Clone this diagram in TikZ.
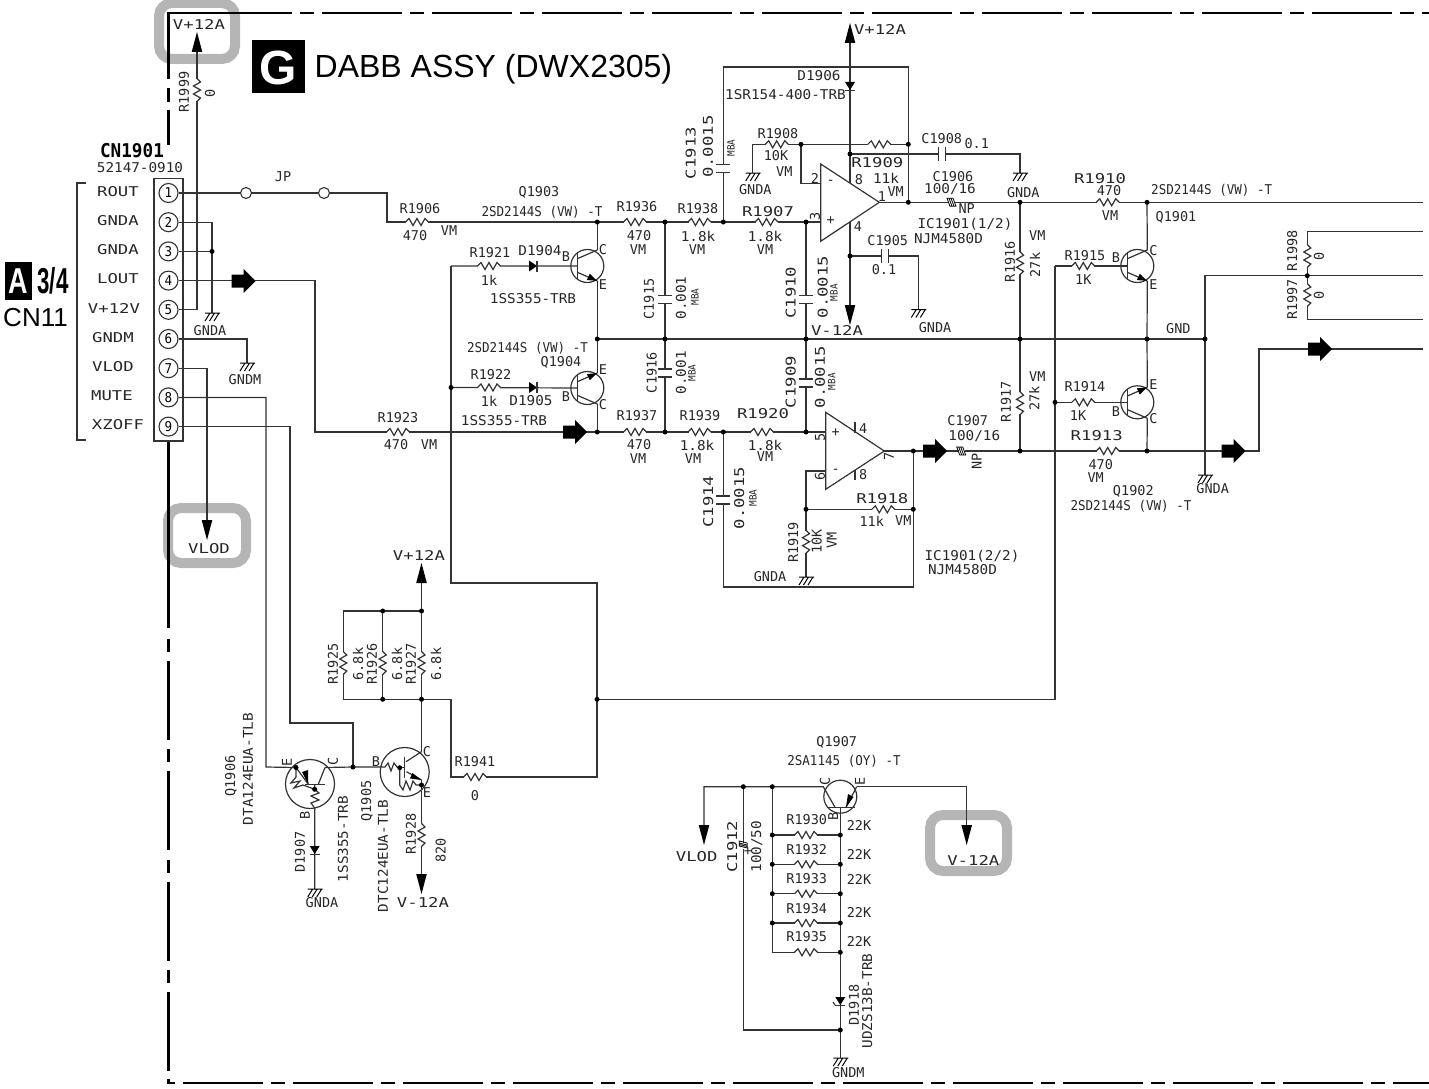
\documentclass[tikz,border=0pt]{standalone}
\usepackage{fontspec}
\setmainfont{Liberation Sans}
\newfontfamily\narrowfont[FakeStretch=.93]{DejaVu Sans Mono}
\newfontfamily\monofont{DejaVu Sans Mono}
\newfontfamily\midfont[FakeStretch=1.06]{DejaVu Sans Mono}
\newfontfamily\widefont[FakeStretch=1.28]{DejaVu Sans Mono}
\definecolor{wirecol}{gray}{0.2}
\definecolor{markcol}{gray}{0.71}
\tikzset{
  wire/.style={line width=1.2pt,draw=wirecol},
  frame/.style={line width=2.2pt,draw=black},
  markbox/.style={line width=10pt,draw=markcol,rounded corners=13pt},
  lab/.style={inner sep=0pt,text=black!85,font=\fontsize{13.5}{14}\selectfont\monofont},
  nlab/.style={inner sep=0pt,text=black!85,font=\fontsize{13.5}{14}\selectfont\narrowfont},
  mlab/.style={inner sep=0pt,text=black!85,font=\fontsize{13.5}{14}\selectfont\midfont},
  wlab/.style={inner sep=0pt,text=black!85,font=\fontsize{13.5}{14}\selectfont\widefont},
  slab/.style={inner sep=0pt,rotate=90,text=black!85,font=\fontsize{10}{10}\selectfont\narrowfont},
  dot/.style={circle,fill=black,inner sep=0pt,minimum size=5pt},
  pinbox/.style={circle,draw=wirecol,line width=1.1pt,fill=white,inner sep=0pt,minimum size=19pt,font=\fontsize{13.5}{14}\selectfont\narrowfont},
  jpbox/.style={circle,draw=wirecol,line width=1.1pt,fill=white,inner sep=0pt,minimum size=11pt},
  resh/.pic={
    \draw[white,line width=2.5pt] (-11,0) -- (11,0);
    \draw[wire] (-11.5,0) -- (-8,-3.5) -- (-4,3.5) -- (0,-3.5) -- (4,3.5) -- (8,-3.5) -- (11.5,0);
  },
  resv/.pic={
    \draw[white,line width=2.5pt] (0,-11) -- (0,11);
    \draw[wire] (0,-11.5) -- (3.5,-8) -- (-3.5,-4) -- (3.5,0) -- (-3.5,4) -- (3.5,8) -- (0,11.5);
  },
  capv/.pic={
    \draw[white,line width=3pt] (0,-3.5) -- (0,3.5);
    \draw[wire] (-7,-4) -- (7,-4) (-7,4) -- (7,4);
  },
  caph/.pic={
    \draw[white,line width=3pt] (-3,0) -- (3,0);
    \draw[wire] (-3.5,-7) -- (-3.5,7) (3.5,-7) -- (3.5,7);
  },
  nph/.pic={
    \draw[white,line width=3pt] (-3,0) -- (3,0);
    \draw[line width=.8pt] (-5,-4) -- (1,-4) -- (4,4) -- (-2,4) -- cycle (-3,-4) -- (0,4) (-1,-4) -- (2,4);
  },
  npv/.pic={
    \draw[white,line width=3pt] (0,-3) -- (0,3);
    \draw[line width=.8pt] (-4,-5) -- (4,-3) -- (4,2) -- (-4,0) -- cycle (-4,-3) -- (4,-1) (-4,-1.5) -- (4,.5);
  },
  dioder/.pic={
    \fill (-4,-5.5) -- (-4,5.5) -- (4,0) -- cycle;
    \draw[wire] (4,-5.5) -- (4,5.5);
  },
  dioded/.pic={
    \fill (-5,-4) -- (5,-4) -- (0,4) -- cycle;
    \draw[wire] (-5,4.3) -- (5,4.3);
  },
  tipup/.pic={\fill (0,0) -- (-5.3,20) -- (5.3,20) -- cycle;},
  tipdown/.pic={\fill (0,0) -- (-5.3,-20) -- (5.3,-20) -- cycle;},
  flowarrow/.pic={\fill (0,-6.5) rectangle (12,6.5) (12,-12) -- (24,0) -- (12,12) -- cycle;},
  gndsym/.pic={
    \draw[line width=1pt] (-7,0) -- (8,0) (-2,0) -- (-7,8) (2.5,0) -- (-2.5,8) (7,0) -- (2,8);
  },
  qnpn/.pic={
    \draw[wire] (0,0) circle (16.5);
    \draw[wire] (-9.5,-13) -- (-9.5,13);
    \draw[wire] (-9.5,-7.5) -- (10,-16);
    \draw[wire] (-9.5,6.5) -- (10,15);
    \fill (9.5,14.8) -- (-.5,14) -- (2.5,7.8) -- cycle;
    \coordinate (-c) at (10,-16);
    \coordinate (-e) at (10,15);
    \coordinate (-b) at (-9.5,0);
  },
}
\begin{document}
\begin{tikzpicture}[x=1pt,y=-1pt]
  \useasboundingbox (0,0) rectangle (1429,1089);
  % Grey marks behind the signals
  \draw[markbox] (159,3) rectangle (235,59);
  \draw[markbox] (168,508) rectangle (246,563);
  \draw[markbox] (930,815) rectangle (1007,871);
  % Board outline
  \draw[frame] (212,13) -- (168.5,13) -- (168.5,79);
  \draw[frame] (168.5,88) -- (168.5,102) (168.5,110) -- (168.5,145);
  \draw[frame] (168.5,441) -- (168.5,628);
  \foreach \y in {639,749,860,970}{
    \draw[frame] (168.5,\y) -- (168.5,\y + 13);
    \draw[frame] (168.5,\y + 22) -- (168.5,\y + 101);
  }
  \draw[frame] (168.5,1079) -- (168.5,1083) -- (175,1083);
  \foreach \x in {212,322,...,1422}{
    \draw[frame] (\x,13) -- ({min(\x + 80,1429)},13);
    \draw[frame] ({min(\x + 88,1429)},13) -- ({min(\x + 102,1429)},13);
  }
  \foreach \x in {183,293,...,1393}{
    \draw[frame] (\x,1083) -- ({min(\x + 80,1429)},1083);
    \draw[frame] ({min(\x + 88,1429)},1083) -- ({min(\x + 102,1429)},1083);
  }
  % Title
  \fill (252,40) rectangle (305,93);
  \node[inner sep=0pt,text=white,font=\fontsize{48}{48}\selectfont\bfseries] (gmark) at (278.5,67.5) {G};
  \node[inner sep=0pt,anchor=west,font=\fontsize{32}{32}\selectfont] (title) at (314.5,69.5) {DABB ASSY (DWX2305)};
  \fill (5,262) rectangle (32,300);
  \node[inner sep=0pt,text=white,font=\fontsize{36}{36}\selectfont\bfseries] (amark) at (18.5,281) {\scalebox{.75}[1]{A}};
  \node[inner sep=0pt,font=\fontsize{36}{36}\selectfont\bfseries] (sheet) at (53,281) {\scalebox{.62}[1]{3/4}};
  \node[inner sep=0pt,font=\fontsize{26}{26}\selectfont] (cn11) at (35.5,318) {CN11};
  % Connector
  \draw[wire] (86,183) -- (77,183) -- (77,440) -- (86,440);
  \draw[wire] (154,178.5) rectangle (183,441);
  \foreach \n [evaluate=\n as \y using 193+(\n-1)*29.2] in {1,...,9}{
    \node[pinbox] (pin\n) at (168.5,\y) {\n};
  }
  \foreach \x/\y/\t [count=\n] in {118/192/ROUT,118/221/GNDA,118/250/GNDA,118/279/LOUT,114/308/V+12V,
      113/338/GNDM,113/367/VLOD,112/396/MUTE,118/425/XZOFF}{
    \node[wlab] (conn\n) at (\x,\y) {\t};
  }
  \node[inner sep=0pt,font=\fontsize{19}{19}\selectfont\narrowfont\bfseries] (cnname) at (132,151) {CN1901};
  % Points of the wiring
  \foreach \n/\x/\y in {
    gA/212/313,gM/247/363,jG/212/251.4,cSix/387/222,cFour/315/432,cEight/266/767,cNine/290/723,cNineb/353/723,
    tipA/197/52,tipB/207/520,
    jU1/597.3/222,jU2/665/222,jU3/723.3/222,jU4/806/222,inP1/820.7/222,
    jL1/597.3/432,jL2/665/432,jL3/723.3/432,jL4/806/432,inP2/825.7/432,
    jB1/597.3/339,jB2/665/339,jB3/806/339,jB4/1020/339,jB5/1147/339,jB6/1205/339,
    b1/451/266,jb2/451/387.5,b3/451/583,b4/597/583,jb5/597/699.3,b6/1055/699.3,b7/1055/266,jb8/1055/402.3,
    b9/597/777,b10/451/777,
    t1/723.3/67,t2/908.3/67,jF2/908.3/144.3,jF3/908.3/202.3,jF1/801/144.3,g1/752.7/144.3,g1b/752.7/173,
    f1/801/183.3,f2/820.7/183.3,op1o/879.3/202.3,
    vTop/850/43,jV1/850/154,vA/850/183,vB/850/222,jV2/850/256,vC/850/305,
    c8a/1020/154,g2/1020/173,c5a/918.3/256,g3/918.3/309.5,
    jO1/1020/202.3,jO2/1147/202.3,oEnd/1423/202.3,
    jM1/1205/275.7,jM2/1307.3/275.7,mEnd/1423/275.7,gF/1205/475,
    u1/1307.3/231.7,u2/1423/231.7,u3/1307.3/319.3,u4/1423/319.3,
    op2o/884.3/451,jP1/913.3/451,jP2/1020/451,jP3/1147/451,w1/1259/451,w2/1259/349,w3/1423/349,
    e1/825.7/471,e2/806/471,jE3/806/509.3,jE4/913.3/509.3,e5/806/577,e6/913.3/587,e7/723.3/587,
    jT1/382.7/611,jT2/421.5/611,tT/343.3/611,aT/421.5/583,jS1/382.7/699.3,jS2/421.5/699.3,sL/343.3/699.3,sR/451/699.3,
    j353/353/767,q6e/296/767.5,q6c/325/767.5,q6b/314.7/789.3,gQ/314.7/889,
    q5b/382/767,q5j/399.7/767.7,q5c/421.5/751.7,q5e/421.5/785,aB/421.5/874,
    v0/704/786.7,vl/704/825,jC/743.3/786.7,jR/772.3/786.7,q7c/823.3/786.7,q7e/856.7/786.7,ve/966.7/786.7,ve2/966.7/825,
    q7b/840.3/807.3,jD/840.3/1030,cC/743.3/1030,gD/840.3/1058}{
    \coordinate (\n) at (\x,\y);
  }
  \foreach \n/\y in {1930/835,1932/864.3,1933/893.7,1934/923,1935/952.3}{
    \coordinate (ll\n) at (772.3,\y);
    \coordinate (lr\n) at (840.3,\y);
  }
  % Transistors
  \pic (Q1903) at (587.3,266) {qnpn};
  \pic[yscale=-1] (Q1904) at (587.3,388) {qnpn};
  \pic (Q1901) at (1137.3,266) {qnpn};
  \pic[yscale=-1] (Q1902) at (1137.3,402.3) {qnpn};
  % Wires of the connector
  \draw[wire] (pin1.east) -- (324,193) -| (cSix) -- (jU1) -- (jU2) -- (jU3) -- (jU4) -- (inP1);
  \node[jpbox] (jpL) at (246,193) {};
  \node[jpbox] (jpR) at (324,193) {};
  \draw[wire] (pin2.east) -| (gA);
  \draw[wire] (pin3.east) -- (jG);
  \draw[wire] (pin4.east) -| (cFour) -- (jL1) -- (jL2) -- (jL3) -- (jL4) -- (inP2);
  \draw[wire] (pin5.east) -| (tipA);
  \draw[wire] (pin6.east) -| (gM);
  \draw[wire] (pin7.east) -| (tipB);
  \draw[wire] (pin8.east) -| (cEight) -- (q6e);
  \draw[wire] (pin9.east) -| (cNine) -- (cNineb) -- (j353);
  % Amplifier wires
  \draw[wire] (jU1) -- (Q1903-c) (Q1903-e) -- (jB1) -- (Q1904-e) (Q1904-c) -- (jL1);
  \draw[wire] (jU2) -- (jB2) -- (jL2);
  \draw[wire] (jU4) -- (jB3) -- (jL4);
  \draw[wire] (jB1) -- (jB2) -- (jB3) -- (jB4) -- (jB5) -- (jB6);
  \draw[wire] (jU3) -- (t1) -- (t2) -- (jF2) -- (jF3);
  \draw[wire] (g1b) -- (g1) -- (jF1) -- (jF2);
  \draw[wire] (jF1) -- (f1) -- (f2);
  \draw[wire] (vTop) -- (jV1) -- (vA);
  \draw[wire] (jV1) -- (c8a) -- (g2);
  \draw[wire] (vB) -- (jV2) -- (vC);
  \draw[wire] (jV2) -- (c5a) -- (g3);
  \draw[wire] (op1o) -- (jF3) -- (jO1) -- (jO2) -- (oEnd);
  \draw[wire] (jO1) -- (jB4) -- (jP2);
  \draw[wire] (jO2) -- (Q1901-c) (Q1901-e) -- (jB5) -- (Q1902-e) (Q1902-c) -- (jP3);
  \draw[wire] (b1) -- (Q1903-b) (jb2) -- (Q1904-b);
  \draw[wire] (b7) -- (Q1901-b) (jb8) -- (Q1902-b);
  \draw[wire] (b1) -- (jb2) -- (b3) -- (b4) -- (jb5) -- (b9) -- (b10) -- (sR) -- (jS2) -- (jS1) -- (sL) -- (tT) -- (jT1) -- (jT2) -- (aT);
  \draw[wire] (jS1) -- (jT1);
  \draw[wire] (jT2) -- (jS2) -- (q5c);
  \draw[wire] (jb5) -- (b6) -- (jb8) -- (b7);
  \draw[wire] (jB6) -- (jM1) -- (jM2) -- (mEnd);
  \draw[wire] (jB6) -- (gF);
  \draw[wire] (u2) -- (u1) -- (jM2) -- (u3) -- (u4);
  \draw[wire] (op2o) -- (jP1) -- (jP2) -- (jP3) -- (w1) -- (w2) -- (w3);
  \draw[wire] (e1) -- (e2) -- (jE3) -- (e5);
  \draw[wire] (jE3) -- (jE4);
  \draw[wire] (jP1) -- (jE4) -- (e6) -- (e7) -- (jL3);
  % Op amps
  \draw[wire,fill=white] (820.7,164) -- (820.7,241.3) -- (op1o) -- cycle;
  \draw[wire,fill=white] (825.7,412.3) -- (825.7,489.3) -- (op2o) -- cycle;
  \draw[wire] (855,421.7) -- (855,433) (855,470) -- (855,480);
  % Q1906 and Q1905 with their inner resistors
  \draw[wire] (310,784) circle (24.5);
  \draw[wire] (q6c) -- (j353) -- (q5b);
  \draw[wire] (305,784.3) -- (325,784.3);
  \draw[wire] (q6e) -- (308.3,784.3);
  \fill (308.3,784.3) -- (302,772) -- (308,770) -- cycle;
  \draw[wire] (q6c) -- (318.3,784.3);
  \draw[wire] (314.7,784.3) -- (q6b) -- (319,793) -- (311,796) -- (319,800) -- (311,803) -- (314.7,808) -- (gQ);
  \draw[wire] (q6e) -- (296,777) -- (291,783) -- (300,781) -- (294,788) -- (303,785) -- (q6b);
  \draw[wire] (404.7,772) circle (24.5);
  \draw[wire] (q5b) -- (385,767) -- (388,763) -- (391,771) -- (394,763) -- (397,767) -- (q5j);
  \draw[wire] (q5j) -- (404.3,767.7);
  \draw[wire] (404.3,756.7) -- (404.3,778);
  \draw[wire] (406,761.7) -- (q5c);
  \draw[wire] (406.5,771.7) -- (421.5,780);
  \fill (421.5,780) -- (410,778.5) -- (412.5,773) -- cycle;
  \draw[wire] (q5j) -- (399.7,785) -- (403,790) -- (406,781) -- (410,790) -- (413,781) -- (416,785) -- (q5e);
  \draw[wire] (421.5,780) -- (q5e) -- (aB);
  % Q1907 and its ladder
  \draw[wire] (840.3,796.7) circle (16.5);
  \draw[wire] (826.7,807.3) -- (855,807.3);
  \draw[wire] (vl) -- (v0) -- (jC) -- (jR) -- (q7c) -- (835,807.3);
  \draw[wire] (q7e) -- (846,807.3);
  \fill (846,807.3) -- (848,794) -- (853.5,797) -- cycle;
  \draw[wire] (q7e) -- (ve) -- (ve2);
  \draw[wire] (q7b) -- (gD);
  \draw[wire] (jC) -- (cC) -- (jD);
  \draw[wire] (jR) -- (ll1935);
  \foreach \n in {1930,1932,1933,1934,1935}{
    \draw[wire] (ll\n) -- (lr\n);
  }
  % Resistors
  \foreach \x/\y in {417/222,398/432,635/222,699.5/222,766.5/222,635/432,699.5/432,762/432,489/266,489/387.5,
      776.7/144.3,879.3/144.3,1107.7/202.3,1083.3/266,1083.3/402.3,1107.7/451,883.3/509.3,475/777,
      806/835,806/864.3,806/893.7,806/923,806/952.3}{
    \pic at (\x,\y) {resh};
  }
  \foreach \x/\y in {197/90,1020/263.3,1020/403.3,1307.3/256,1307.3/295,806/541.7,343.3/663,382.7/663,421.5/663,421.5/835}{
    \pic at (\x,\y) {resv};
  }
  % Capacitors and diodes
  \foreach \x/\y in {665/299.5,665/373,806/299.5,806/383,723.3/500,723.3/168.3}{
    \pic at (\x,\y) {capv};
  }
  \foreach \x/\y in {884.7/256,942.3/154}{
    \pic at (\x,\y) {caph};
  }
  \pic at (952,202.3) {nph};
  \pic at (961.7,451) {nph};
  \pic at (743.3,846) {npv};
  \pic at (533,266) {dioder};
  \pic at (533,387.5) {dioder};
  \pic at (850,86) {dioded};
  \pic at (314.7,850) {dioded};
  \pic at (840.3,1001) {dioded};
  \draw[wire] (835,1005) -- (833,1002);
  % Arrows and grounds
  \pic at (197,32) {tipup};
  \pic at (207,540) {tipdown};
  \pic at (850,23) {tipup};
  \pic at (850,325) {tipdown};
  \pic at (421.5,563) {tipup};
  \pic at (421.5,894) {tipdown};
  \pic at (704,845) {tipdown};
  \pic at (966.7,845) {tipdown};
  \foreach \x/\y in {231.5/281,563/432,923/451,1221.5/451,1308/349}{
    \pic at (\x,\y) {flowarrow};
  }
  \foreach \p in {gA,gM,g1b,g2,g3,gF,e5,gQ,gD}{
    \pic at (\p) {gndsym};
  }
  % Junction dots
  \foreach \p in {jG,jU1,jU2,jU3,jU4,jL1,jL2,jL3,jL4,jB1,jB2,jB3,jB4,jB5,jB6,jb2,jb5,jb8,jF1,jF2,jF3,jV1,jV2,
      jO1,jO2,jM2,jP1,jP2,jP3,jE3,jE4,jT1,jT2,jS1,jS2,j353,q6e,q6b,q5j,q5e,jC,jR,jD,
      ll1930,ll1932,ll1933,ll1934,lr1930,lr1932,lr1933,lr1934,lr1935}{
    \node[dot] (d\p) at (\p) {};
  }
  % Labels
  \foreach \x/\y/\t [count=\n] in {
    283/177/JP,420/209/R1906,415/236/470,449/231/VM,398/418/R1923,396/445/470,429/445/VM,
    210/331/GNDA,245/380/GNDM,
    539/192/Q1903,637/207/R1936,639/236/470,638/250/VM,698/209/R1938,697/250/VM,
    765/250/VM,490/253/R1921,489/280/1k,566/257/B,603/250/C,603/285/E,
    561/362/Q1904,491/375/R1922,489/401/1k,566/397/B,603/370/E,603/405/C,
    637/416/R1937,639/445/470,638/459/VM,700/416/R1939,693/459/VM,765/457/VM,
    778/134/R1908,776/155.7/10K,784.3/172/VM,755.3/190/GNDA,815/178/2,
    859/180/8,858/226.7/4,882/196.7/1,895.7/191.7/VM,953/177/C1906,966.7/209/NP,
    887.7/240.7/C1905,884/270/{0.1},941.7/138.3/C1908,976.7/143.3/{0.1},
    935/328/GNDA,1023.3/192.3/GNDA,1109/191/470,1110/216/VM,1176/217.3/Q1901,
    1037.3/235.3/VM,1037.3/376.7/VM,1085/255.7/R1915,1083.3/280/1K,1116/257.7/B,1153.3/250.7/C,1153.3/285/E,
    1178.3/328.3/GND,1085/386.7/R1914,1078/416/1K,1116/411.7/B,1153.3/385/E,1153.3/418.3/C,
    967.7/421/C1907,1100.7/464.3/470,1095.7/477.3/VM,1133.3/491.7/Q1902,
    1212.7/489/GNDA,863.3/428.3/4,863.3/474.3/8,871.7/521/11k,903.3/521/VM,770/576.7/GNDA,
    475/762/R1941,475/796/0,322/903/GNDA,376/762/B,427/752/C,427/793/E,
    836.7/742.3/Q1907,806.7/820/R1930,806.7/849.3/R1932,806.7/879/R1933,806.7/908.3/R1934,806.7/937/R1935,
    859/825.3/22K,859/854.3/22K,859/879/22K,859/912.7/22K,859/941.7/22K,848.3/1072.3/GNDM}{
    \node[lab] (lab\n) at (\x,\y) {\t};
  }
  \foreach \x/\y/\t [count=\n] in {
    542/212/{2SD2144S (VW) -T},527.5/348/{2SD2144S (VW) -T},1211.7/190/{2SD2144S (VW) -T},1131/506.7/{2SD2144S (VW) -T},
    844/761.7/{2SA1145 (OY) -T}}{
    \node[nlab] (nlab\n) at (\x,\y) {\t};
  }
  \foreach \x/\y/\t [count=\n] in {
    140/168/{52147-0910},819/75.7/D1906,785.5/95/{1SR154-400-TRB},540/251/D1904,531/401/D1905,
    533/299/{1SS355-TRB},504/421/{1SS355-TRB},950/189/{100/16},974.3/435.7/{100/16},
    965/224/{IC1901(1/2)},948.5/239/NJM4580D,972/556/{IC1901(2/2)},962.5/570/NJM4580D,
    698/236/1.8k,765/236/1.8k,697/445/1.8k,765/445/1.8k,886/178/11k}{
    \node[mlab] (mlab\n) at (\x,\y) {\t};
  }
  \foreach \x/\y/\t [count=\n] in {
    199/24/V+12A,209/549/VLOD,880/29/V+12A,837/330/V-12A,768/212/R1907,763/414/R1920,877.3/163/R1909,
    1100/179/R1910,1096.7/435.7/R1913,882.3/499/R1918,419/555/V+12A,423/902/V-12A,696.7/856.7/VLOD,973.3/860/V-12A}{
    \node[wlab] (wlab\n) at (\x,\y) {\t};
  }
  \foreach \x/\y/\t [count=\n] in {
    184/92/R1999,210/93/0,649/299/C1915,651.7/372.7/C1916,
    1010/261.7/R1916,1035/265/27k,1006/401.7/R1917,1034.3/398.3/27k,1292.3/250.7/R1998,1319/256/0,1292.3/299.3/R1997,1319/295/0,
    793.3/542.3/R1919,816.7/541.7/10K,831.7/540/VM,976.7/461.7/NP,815/216.7/3,820/437.3/5,820/476.7/6,889/456.7/7,
    333/664/R1925,358/664/{6.8k},372/664/R1926,397/664/{6.8k},411/664/R1927,436/664/{6.8k},
    287/762/E,333/761/C,305/815/B,300/852/D1907,231/776/Q1906,367/801/Q1905,411/834/R1928,440.7/850.7/820,
    833.3/816.7/B,825/781.7/C,860/781/E,854/1005/D1918}{
    \node[lab,rotate=90] (rlab\n) at (\x,\y) {\t};
  }
  \foreach \x/\y/\t [count=\n] in {
    690.7/153/C1913,790.7/292.7/C1910,790.7/382/C1909,708.3/501.7/C1914,732.3/846.7/C1912,
    708/146.7/{0.0015},822.7/287/{0.0015},820/377/{0.0015},739.3/498/{0.0015}}{
    \node[wlab,rotate=90] (wrlab\n) at (\x,\y) {\t};
  }
  \foreach \x/\y/\t [count=\n] in {
    248/769/{DTA124EUA-TLB},383/856/{DTC124EUA-TLB},867.3/1001/{UDZS13B-TRB},343/839/{1SS355-TRB},
    681/298/{0.001},681/372.7/{0.001},756.7/846.7/{100/50}}{
    \node[mlab,rotate=90] (mrlab\n) at (\x,\y) {\t};
  }
  \foreach \x/\y [count=\n] in {731/148,695/297,692/373,834/292.7,831.7/381.7,753/498}{
    \node[slab] (mba\n) at (\x,\y) {MBA};
  }
  % Op amp signs
  \foreach \x/\y/\t [count=\n] in {830.7/220.7/+,830.7/182/-,835.7/432.7/+,835.7/471.7/-,748/851.7/+}{
    \node[lab] (sign\n) at (\x,\y) {\t};
  }
\end{tikzpicture}
\end{document}
